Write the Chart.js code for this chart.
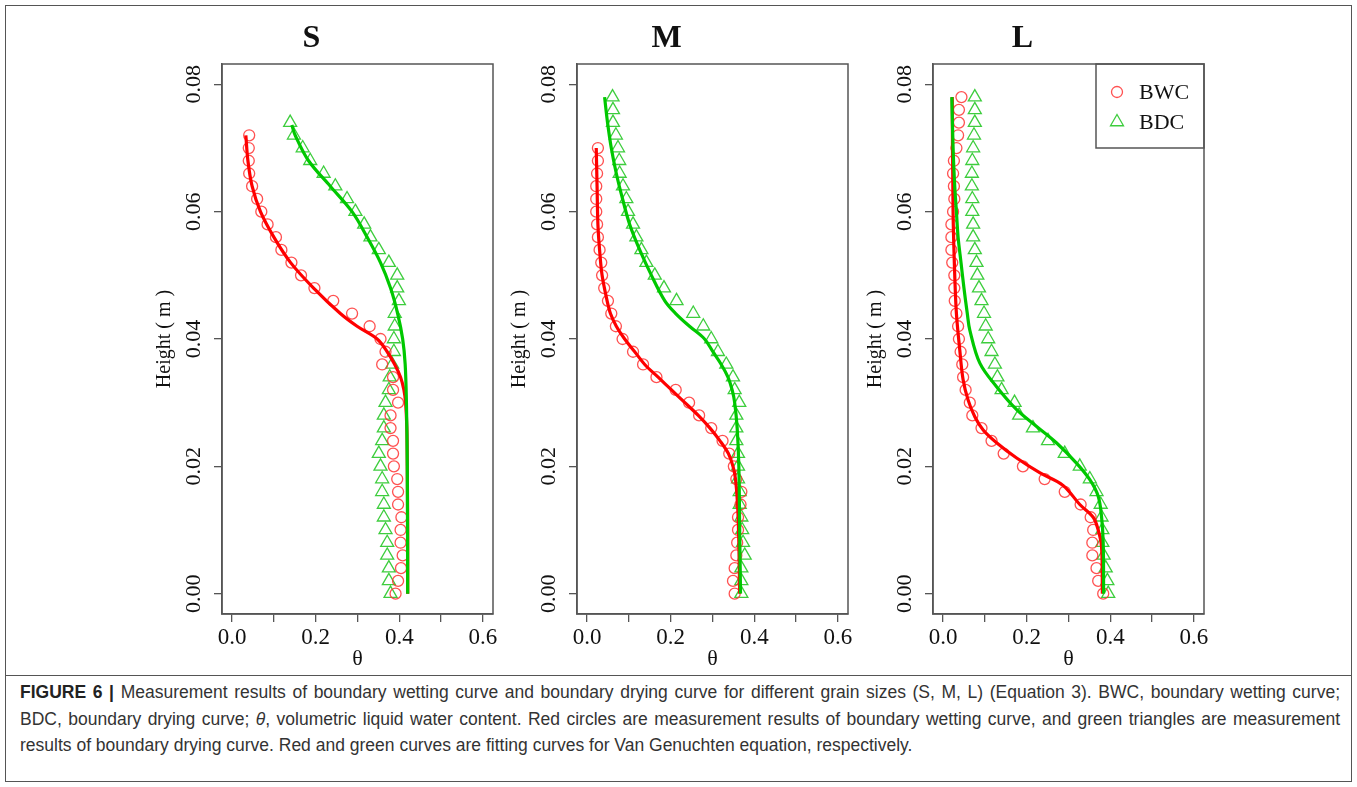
<!DOCTYPE html>
<html>
<head>
<meta charset="utf-8">
<script src="https://cdn.jsdelivr.net/npm/chart.js@4.4.0/dist/chart.umd.min.js"></script>
<style>
  body { margin: 0; background: #fff; }
  #page { position: relative; width: 1357px; height: 787px; overflow: hidden; background: #fff; }
  #frame { position: absolute; left: 5px; top: 5px; width: 1345px; height: 775px; border: 1.5px solid #555; }
  #rule { position: absolute; left: 5px; top: 675px; width: 1347px; border-top: 1.5px solid #555; }
  .panel { position: absolute; top: 14px; width: 380px; height: 660px; }
  #caption { position: absolute; left: 20px; top: 679px; width: 1320px;
    font-family: "Liberation Sans", Arial, sans-serif; font-size: 17.5px; line-height: 26.5px; color: #333; }
  .line { text-align: justify; text-align-last: justify; white-space: nowrap; }
  .line.last { text-align-last: left; }
</style>
</head>
<body>
<div id="page">
  <div id="frame"></div>
  <div class="panel" style="left:130px"><canvas id="chartS"></canvas></div>
  <div class="panel" style="left:485px"><canvas id="chartM"></canvas></div>
  <div class="panel" style="left:841px"><canvas id="chartL"></canvas></div>
  <div id="rule"></div>
  <div id="caption">
    <div class="line"><b style="color:#222">FIGURE 6 |</b> Measurement results of boundary wetting curve and boundary drying curve for different grain sizes (S, M, L) (Equation 3). BWC, boundary wetting curve;</div>
    <div class="line">BDC, boundary drying curve; <i>θ</i>, volumetric liquid water content. Red circles are measurement results of boundary wetting curve, and green triangles are measurement</div>
    <div class="line last">results of boundary drying curve. Red and green curves are fitting curves for Van Genuchten equation, respectively.</div>
  </div>
</div>
<script>
// Heights of the measured points (m), bottom to top
const heights = [0, 0.002, 0.004, 0.006, 0.008, 0.010, 0.012, 0.014, 0.016, 0.018,
  0.020, 0.022, 0.024, 0.026, 0.028, 0.030, 0.032, 0.034, 0.036, 0.038,
  0.040, 0.042, 0.044, 0.046, 0.048, 0.050, 0.052, 0.054, 0.056, 0.058,
  0.060, 0.062, 0.064, 0.066, 0.068, 0.070, 0.072, 0.074, 0.076, 0.078];

// Axis ticks
const xTicks = [0, 0.1, 0.2, 0.3, 0.4, 0.5, 0.6];
const xTickLabels = ['0.0', '', '0.2', '', '0.4', '', '0.6'];
const yTicks = [0, 0.02, 0.04, 0.06, 0.08];
const yTickLabels = ['0.00', '0.02', '0.04', '0.06', '0.08'];

// S panel: measured theta
const sBWC = [0.391, 0.397, 0.404, 0.408, 0.403, 0.403, 0.405, 0.397, 0.397, 0.395,
  0.387, 0.385, 0.385, 0.379, 0.379, 0.397, 0.385, 0.385, 0.359, 0.367,
  0.355, 0.329, 0.287, 0.242, 0.197, 0.165, 0.142, 0.118, 0.105, 0.085,
  0.070, 0.060, 0.048, 0.041, 0.040, 0.040, 0.041];
const sBDC = [0.379, 0.375, 0.375, 0.371, 0.371, 0.367, 0.363, 0.363, 0.359, 0.359,
  0.355, 0.351, 0.359, 0.363, 0.363, 0.367, 0.375, 0.377, 0.383, 0.387,
  0.387, 0.389, 0.389, 0.399, 0.395, 0.395, 0.375, 0.351, 0.331, 0.316,
  0.295, 0.275, 0.247, 0.219, 0.187, 0.169, 0.148, 0.139];
// S panel: fitted curves
const sFitBWC_h = [0, 0.010, 0.020, 0.026, 0.030, 0.032, 0.034, 0.036, 0.038, 0.040, 0.042, 0.044, 0.048, 0.052, 0.056, 0.060, 0.064, 0.068, 0.072];
const sFitBWC_t = [0.420, 0.420, 0.419, 0.418, 0.415, 0.411, 0.403, 0.389, 0.371, 0.347, 0.299, 0.259, 0.195, 0.140, 0.100, 0.068, 0.048, 0.038, 0.033];
const sFitBDC_h = [0, 0.020, 0.030, 0.036, 0.040, 0.044, 0.048, 0.052, 0.056, 0.060, 0.064, 0.068, 0.072, 0.0736];
const sFitBDC_t = [0.420, 0.419, 0.417, 0.414, 0.408, 0.396, 0.379, 0.355, 0.323, 0.287, 0.235, 0.183, 0.151, 0.143];

// M panel: measured theta
const mBWC = [0.353, 0.349, 0.353, 0.357, 0.359, 0.361, 0.361, 0.367, 0.369, 0.357,
  0.351, 0.340, 0.324, 0.297, 0.268, 0.244, 0.212, 0.166, 0.134, 0.110,
  0.085, 0.069, 0.058, 0.050, 0.041, 0.036, 0.034, 0.030, 0.026, 0.024,
  0.022, 0.022, 0.022, 0.024, 0.026, 0.026];
const mBDC = [0.369, 0.369, 0.369, 0.377, 0.373, 0.371, 0.369, 0.365, 0.365, 0.361,
  0.361, 0.361, 0.357, 0.357, 0.357, 0.364, 0.353, 0.349, 0.333, 0.313,
  0.297, 0.278, 0.254, 0.214, 0.184, 0.162, 0.142, 0.130, 0.118, 0.110,
  0.098, 0.094, 0.086, 0.078, 0.077, 0.074, 0.069, 0.062, 0.062, 0.061];
// M panel: fitted curves
const mFitBWC_h = [0, 0.008, 0.014, 0.018, 0.020, 0.022, 0.024, 0.026, 0.028, 0.030, 0.032, 0.034, 0.036, 0.038, 0.040, 0.042, 0.044, 0.046, 0.050, 0.054, 0.058, 0.064, 0.070];
const mFitBWC_t = [0.365, 0.363, 0.360, 0.355, 0.349, 0.338, 0.318, 0.294, 0.266, 0.234, 0.202, 0.170, 0.138, 0.114, 0.090, 0.070, 0.056, 0.048, 0.036, 0.030, 0.026, 0.024, 0.022];
const mFitBDC_h = [0, 0.010, 0.020, 0.026, 0.030, 0.032, 0.034, 0.036, 0.038, 0.040, 0.042, 0.044, 0.046, 0.050, 0.054, 0.058, 0.062, 0.066, 0.070, 0.074, 0.078];
const mFitBDC_t = [0.367, 0.365, 0.363, 0.359, 0.353, 0.347, 0.337, 0.321, 0.301, 0.281, 0.245, 0.212, 0.186, 0.154, 0.126, 0.102, 0.085, 0.070, 0.058, 0.049, 0.042];

// L panel: measured theta
const lBWC = [0.383, 0.371, 0.367, 0.357, 0.357, 0.359, 0.353, 0.329, 0.291, 0.243,
  0.191, 0.145, 0.116, 0.092, 0.070, 0.064, 0.054, 0.048, 0.046, 0.042,
  0.038, 0.036, 0.032, 0.028, 0.027, 0.027, 0.022, 0.020, 0.020, 0.020,
  0.024, 0.027, 0.026, 0.024, 0.026, 0.032, 0.036, 0.038, 0.038, 0.044];
const lBDC = [0.395, 0.393, 0.389, 0.384, 0.381, 0.381, 0.379, 0.377, 0.367, 0.351,
  0.327, 0.291, 0.251, 0.215, 0.182, 0.171, 0.140, 0.130, 0.124, 0.116,
  0.108, 0.102, 0.098, 0.092, 0.086, 0.082, 0.080, 0.076, 0.072, 0.072,
  0.070, 0.070, 0.069, 0.069, 0.070, 0.072, 0.074, 0.076, 0.076, 0.076];
// L panel: fitted curves
const lFitBWC_h = [0, 0.0074, 0.010, 0.012, 0.014, 0.017, 0.019, 0.0213, 0.0237, 0.0257, 0.0278, 0.0304, 0.0336, 0.0383, 0.044, 0.050, 0.060, 0.078];
const lFitBWC_t = [0.381, 0.379, 0.371, 0.359, 0.327, 0.287, 0.231, 0.176, 0.128, 0.096, 0.076, 0.060, 0.048, 0.040, 0.032, 0.028, 0.024, 0.022];
const lFitBDC_h = [0, 0.008, 0.0121, 0.0153, 0.0179, 0.0205, 0.0237, 0.0263, 0.0289, 0.0325, 0.0362, 0.0414, 0.044, 0.048, 0.052, 0.056, 0.060, 0.064, 0.070, 0.078];
const lFitBDC_t = [0.384, 0.383, 0.379, 0.371, 0.351, 0.319, 0.271, 0.223, 0.176, 0.128, 0.088, 0.064, 0.058, 0.050, 0.043, 0.036, 0.032, 0.028, 0.024, 0.021];

const serif = '"Liberation Serif", "Times New Roman", serif';
const axisColor = '#555';

// Pair theta values with heights
function toPoints(hs, ts) {
  return ts.map((t, i) => ({ x: t, y: hs[i] }));
}

// Box around the plot region (R style)
const plotBox = {
  id: 'plotBox',
  afterDraw(chart) {
    const { ctx, chartArea: a } = chart;
    ctx.save();
    ctx.strokeStyle = axisColor;
    ctx.lineWidth = 1.5;
    ctx.strokeRect(a.left, a.top, a.right - a.left, a.bottom - a.top);
    ctx.restore();
  }
};

// Boxed legend at the top right of the plot region
const legendBox = {
  id: 'legendBox',
  afterDatasetsDraw(chart) {
    const { ctx, chartArea: a } = chart;
    const w = 108, h = 84;
    const x0 = a.right - w, y0 = a.top;
    ctx.save();
    ctx.fillStyle = '#fff';
    ctx.fillRect(x0, y0, w, h);
    ctx.strokeStyle = axisColor;
    ctx.lineWidth = 1.5;
    ctx.strokeRect(x0, y0, w, h);
    const marks = chart.data.datasets.filter(d => !d.showLine);
    marks.forEach((d, i) => {
      const cy = y0 + 28 + i * 30;
      ctx.strokeStyle = d.borderColor;
      ctx.fillStyle = 'rgba(0,0,0,0)';
      ctx.lineWidth = d.borderWidth;
      Chart.helpers.drawPoint(ctx, { pointStyle: d.pointStyle, radius: d.pointRadius, borderWidth: d.borderWidth, rotation: 0 }, x0 + 21, cy);
      ctx.fillStyle = '#111';
      ctx.font = '22px ' + serif;
      ctx.textAlign = 'left';
      ctx.textBaseline = 'middle';
      ctx.fillText(d.label, x0 + 43, cy + 1);
    });
    ctx.restore();
  }
};

function makePanel(id, title, bwc, bdc, fitBwcH, fitBwcT, fitBdcH, fitBdcT, withLegend) {
  const ctx = document.getElementById(id).getContext('2d');
  const plugins = [plotBox];
  if (withLegend) plugins.push(legendBox);

  return new Chart(ctx, {
    type: 'scatter',
    data: {
      datasets: [{
        label: 'BDC fit',
        data: toPoints(fitBdcH, fitBdcT),
        showLine: true,
        borderColor: '#00c800',
        borderWidth: 3.2,
        pointRadius: 0,
        tension: 0.35,
        fill: false
      }, {
        label: 'BWC fit',
        data: toPoints(fitBwcH, fitBwcT),
        showLine: true,
        borderColor: '#ff0000',
        borderWidth: 3.2,
        pointRadius: 0,
        tension: 0.35,
        fill: false
      }, {
        label: 'BWC',
        data: toPoints(heights, bwc),
        showLine: false,
        pointStyle: 'circle',
        pointRadius: 5.5,
        borderWidth: 1.3,
        borderColor: 'rgba(255, 50, 50, 0.85)',
        backgroundColor: 'rgba(0,0,0,0)'
      }, {
        label: 'BDC',
        data: toPoints(heights, bdc),
        showLine: false,
        pointStyle: 'triangle',
        pointRadius: 7.5,
        borderWidth: 1.3,
        borderColor: 'rgba(40, 200, 40, 0.9)',
        backgroundColor: 'rgba(0,0,0,0)'
      }]
    },
    options: {
      responsive: true,
      maintainAspectRatio: false,
      animation: false,
      events: [],
      layout: { autoPadding: false, padding: { left: 0, right: 17, top: 0, bottom: 0 } },
      plugins: {
        legend: { display: false },
        tooltip: { enabled: false },
        title: {
          display: true,
          text: title,
          color: '#111',
          font: { family: serif, size: 32, weight: 'bold' },
          padding: { top: 6, bottom: 5.6 }
        }
      },
      scales: {
        x: {
          type: 'linear',
          min: -0.024,
          max: 0.624,
          afterBuildTicks: s => { s.ticks = xTicks.map(v => ({ value: v })); },
          afterFit: s => { s.height = 60; },
          ticks: {
            autoSkip: false,
            maxRotation: 0,
            padding: 2,
            color: '#111',
            font: { family: serif, size: 23 },
            callback: (v, i) => xTickLabels[i]
          },
          grid: { drawOnChartArea: false, drawTicks: true, tickLength: 8, color: axisColor, lineWidth: 1.3 },
          border: { display: true, color: axisColor, width: 1.5 },
          title: { display: true, text: 'θ', color: '#111', font: { family: serif, size: 22 }, padding: { top: 0, bottom: 2 } }
        },
        y: {
          type: 'linear',
          min: -0.0032,
          max: 0.0832,
          afterBuildTicks: s => { s.ticks = yTicks.map(v => ({ value: v })); },
          afterFit: s => { s.width = 92; },
          ticks: {
            autoSkip: false,
            minRotation: 90,
            maxRotation: 90,
            crossAlign: 'center',
            padding: 1,
            color: '#111',
            font: { family: serif, size: 22 },
            callback: (v, i) => yTickLabels[i]
          },
          grid: { drawOnChartArea: false, drawTicks: true, tickLength: 8, color: axisColor, lineWidth: 1.3 },
          border: { display: true, color: axisColor, width: 1.5 },
          title: { display: true, text: 'Height ( m )', color: '#111', font: { family: serif, size: 20 }, padding: { top: 23, bottom: 0 } }
        }
      }
    },
    plugins: plugins
  });
}

makePanel('chartS', 'S', sBWC, sBDC, sFitBWC_h, sFitBWC_t, sFitBDC_h, sFitBDC_t, false);
makePanel('chartM', 'M', mBWC, mBDC, mFitBWC_h, mFitBWC_t, mFitBDC_h, mFitBDC_t, false);
makePanel('chartL', 'L', lBWC, lBDC, lFitBWC_h, lFitBWC_t, lFitBDC_h, lFitBDC_t, true);
</script>
</body>
</html>
